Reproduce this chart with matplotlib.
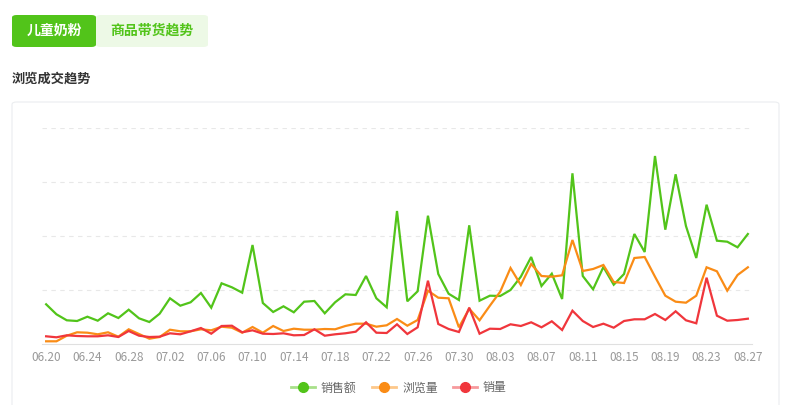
import matplotlib
matplotlib.use("Agg")
import matplotlib.pyplot as plt
from matplotlib.patches import FancyBboxPatch
from matplotlib.lines import Line2D
import numpy as np
import pandas as pd

plt.rcParams['font.family'] = ['Noto Sans CJK SC', 'DejaVu Sans']

# daily dates 06.20 .. 08.27
dates = pd.date_range('2024-06-20', '2024-08-27', freq='D')
date_labels = [d.strftime('%m.%d') for d in dates]

# values (arbitrary units, one grid step = 54)
sales_amount = [39.7, 29.7, 23.7, 23.0, 27.3, 23.3, 30.7, 26.0, 34.3, 25.7,
                22.0, 30.3, 45.7, 38.3, 41.7, 51.0, 36.3, 60.7, 56.7, 51.3,
                99.0, 41.0, 32.0, 37.7, 31.7, 42.3, 43.0, 30.7, 41.7, 49.7,
                49.0, 68.0, 45.7, 36.7, 133.0, 42.7, 52.7, 128.3, 70.0, 50.3,
                44.0, 118.7, 43.3, 48.3, 48.0, 54.0, 67.3, 87.0, 58.0, 70.3,
                45.0, 170.7, 68.0, 54.7, 77.0, 59.3, 70.0, 110.0, 92.0, 188.0,
                114.3, 169.7, 118.0, 86.0, 139.3, 103.3, 102.3, 96.7, 110.0]
views = [2.7, 2.7, 8.3, 11.7, 11.3, 9.7, 11.7, 7.3, 14.7, 10.0,
         5.3, 7.0, 14.3, 12.7, 12.7, 14.7, 13.7, 17.3, 16.3, 11.3,
         17.0, 11.3, 18.0, 13.0, 15.3, 14.3, 14.3, 15.0, 14.7, 18.0,
         20.3, 20.3, 17.3, 18.7, 25.0, 18.3, 24.0, 53.3, 46.3, 45.7,
         16.7, 35.3, 23.7, 38.3, 52.3, 76.0, 59.0, 80.0, 68.0, 67.3,
         68.7, 104.0, 73.0, 75.0, 79.0, 62.0, 61.0, 86.0, 87.0, 67.3,
         48.3, 42.3, 41.3, 48.3, 76.7, 72.7, 53.3, 69.0, 76.7]
sales_qty = [7.7, 6.7, 8.7, 8.0, 7.7, 7.7, 8.7, 7.0, 13.0, 8.3,
             7.0, 7.3, 10.7, 9.7, 12.7, 16.0, 10.3, 18.0, 18.3, 11.7,
             13.7, 10.3, 10.0, 10.7, 8.7, 9.0, 14.7, 8.3, 9.7, 10.7,
             12.3, 21.7, 11.3, 11.0, 19.7, 10.0, 16.7, 63.3, 20.0, 15.0,
             12.0, 36.3, 10.3, 15.3, 15.0, 19.7, 18.0, 21.7, 16.7, 22.7,
             14.0, 33.3, 23.0, 17.0, 20.3, 16.3, 23.0, 24.7, 24.7, 30.0,
             24.0, 32.7, 23.7, 20.7, 66.3, 28.3, 23.3, 24.0, 25.3]

series_names = ['销售额', '浏览量', '销量']
colors = ['#52c41a', '#fa8c16', '#f0363c']
light = ['#a8e08a', '#fdc88a', '#f79a9d']

W, H = 790, 405
fig = plt.figure(figsize=(W / 100, H / 100), dpi=100)


def box(x0, y0, x1, y1, **kw):
    # pixel coords (top-left origin) -> figure fraction
    p = FancyBboxPatch((x0 / W, 1 - y1 / H), (x1 - x0) / W, (y1 - y0) / H,
                       transform=fig.transFigure, zorder=-5, **kw)
    fig.patches.append(p)


# tabs
box(96, 15, 208, 47, boxstyle='round,pad=0,rounding_size=0.006',
    facecolor='#edf9e6', edgecolor='none')
box(12, 15, 96, 47, boxstyle='round,pad=0,rounding_size=0.006',
    facecolor='#52c41a', edgecolor='none')
fig.text(54 / W, 1 - 31 / H, '儿童奶粉', color='white', fontsize=10,
         fontweight='bold', ha='center', va='center')
fig.text(152 / W, 1 - 31 / H, '商品带货趋势', color='#52c41a', fontsize=10,
         fontweight='bold', ha='center', va='center')
fig.text(12 / W, 1 - 79 / H, '浏览成交趋势', color='#333333', fontsize=9.5,
         fontweight='bold', ha='left', va='center')

# card
box(12, 102, 779, 420, boxstyle='round,pad=0,rounding_size=0.006',
    facecolor='white', edgecolor='#ebedf0', linewidth=0.8)

ax = fig.add_axes([42 / W, (H - 344) / H, (752 - 42) / W, (344 - 128) / H])
ax.set_facecolor('none')
x = np.arange(len(dates))
for vals, c in zip([sales_amount, views, sales_qty], colors):
    ax.plot(x, vals, color=c, linewidth=1.6, solid_joinstyle='miter')

ax.set_xlim(-0.4, 68.4)
ax.set_ylim(0, 216)
ax.set_yticks([54, 108, 162, 216])
ax.set_yticklabels([])
ax.tick_params(axis='y', length=0)
ax.grid(axis='y', color='#e8e8e8', linestyle=(0, (4, 4)), linewidth=0.8)
ax.set_xticks(x[::4])
ax.set_xticklabels(date_labels[::4], color='#999999', fontsize=8.5)
ax.tick_params(axis='x', length=0, pad=5)
for s in ['top', 'right', 'left']:
    ax.spines[s].set_visible(False)
ax.spines['bottom'].set_color('#e0e0e0')

handles = []
for c, lc in zip(colors, light):
    handles.append((Line2D([], [], color=lc, linewidth=2),
                    Line2D([], [], color=c, marker='o', markersize=7, linestyle='none')))
fig.legend(handles, series_names, loc='center', bbox_to_anchor=(0.505, 1 - 388 / H),
           ncol=3, frameon=False, fontsize=8.6, labelcolor='#666666',
           handlelength=2.0, columnspacing=1.3, handletextpad=0.5)

fig.savefig('out.png', dpi=100)
